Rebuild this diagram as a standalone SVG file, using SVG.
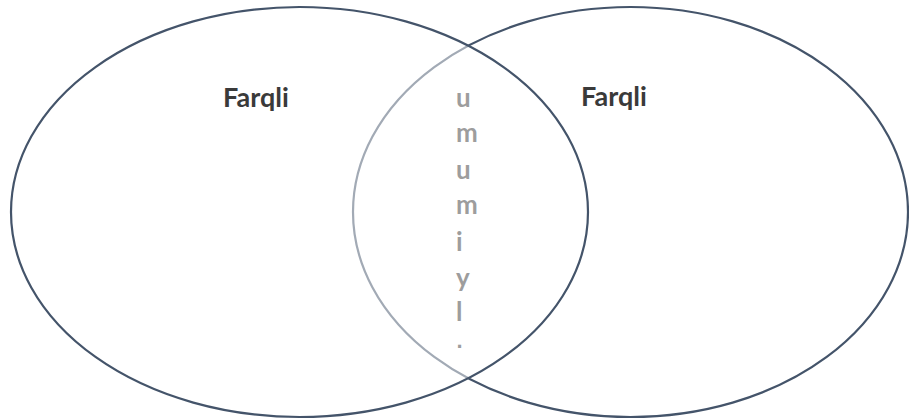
<svg xmlns="http://www.w3.org/2000/svg" width="909" height="419" viewBox="0 0 909 419">
  <style>
    .set { stroke: #44546A; stroke-width: 2.2; }
    .lbl { font-family: Lato, "Liberation Sans", sans-serif; font-weight: bold; font-size: 27px; fill: #3a3a3a; }
    .vert { font-family: Lato, "Liberation Sans", sans-serif; font-weight: bold; font-size: 26px; fill: #3a3a3a; }
  </style>
  <rect width="909" height="419" fill="#ffffff"/>
  <g id="set-right">
    <ellipse class="set" cx="630.5" cy="212" rx="277.5" ry="205" fill="#ffffff"/>
    <text class="lbl" x="614" y="106" text-anchor="middle">Farqli</text>
  </g>
  <g id="intersection">
    <text class="vert" x="456" y="106.7">u</text>
    <text class="vert" x="456" y="141.7">m</text>
    <text class="vert" x="456" y="179">u</text>
    <text class="vert" x="456" y="214">m</text>
    <text class="vert" x="456" y="251">i</text>
    <text class="vert" x="456" y="287">y</text>
    <text class="vert" x="456" y="321">l</text>
    <text class="vert" x="456.5" y="347.5" style="font-family:'Liberation Sans', sans-serif;font-size:22px">.</text>
  </g>
  <g id="set-left">
    <ellipse class="set" cx="299.5" cy="212" rx="288.5" ry="205" fill="#ffffff" fill-opacity="0.5"/>
    <text class="lbl" x="256" y="107" text-anchor="middle">Farqli</text>
  </g>
  <g id="connectors"/>
</svg>
